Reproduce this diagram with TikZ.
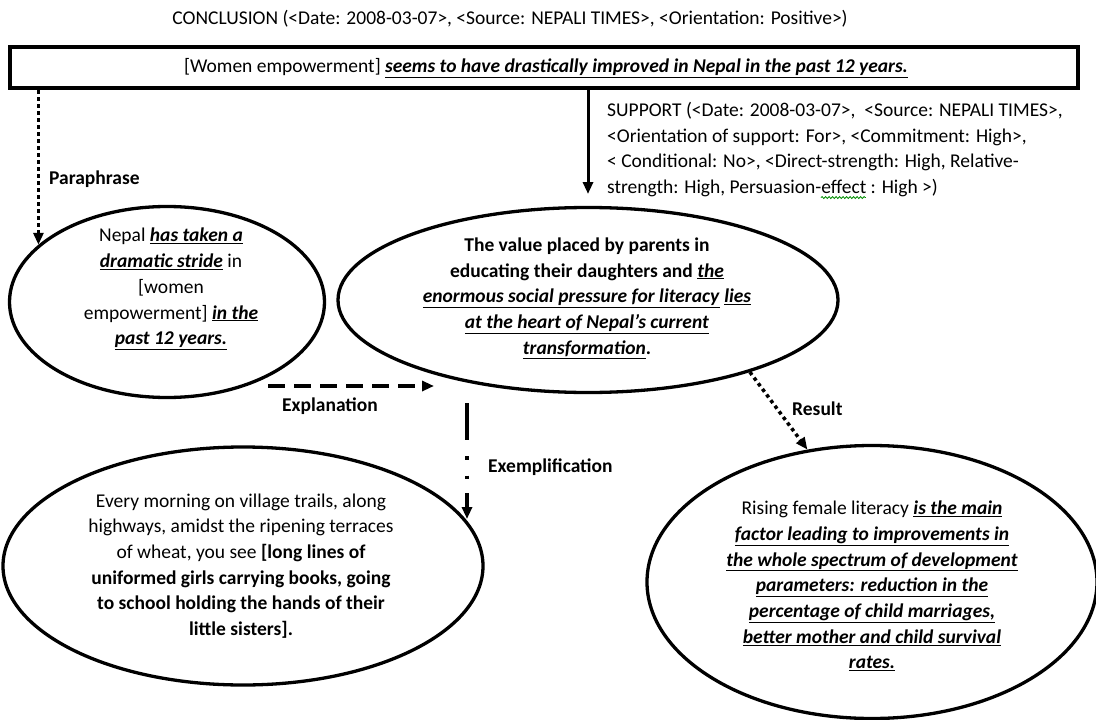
\documentclass[tikz,border=0pt]{standalone}
\usepackage{fontspec}
\setmainfont{Carlito}
\usetikzlibrary{arrows.meta,shapes.geometric,decorations.pathmorphing}
\newcommand\bui[1]{\underline{\textbf{\textit{#1}}}}
\newsavebox\gwbox
\newcommand\gwave[1]{\sbox\gwbox{#1}\usebox\gwbox\llap{\tikz[baseline=0pt,x=1pt,y=1pt]\draw[green!55!black, line width=0.8pt, decorate, decoration={snake, amplitude=1pt, segment length=3.5pt}] (0,-4) -- (\wd\gwbox,-4);}}
\begin{document}
\begin{tikzpicture}[x=1pt,y=-1pt,
  txt/.style={font=\fontsize{19.5}{25.7}\selectfont, align=center, inner sep=0pt},
  lbl/.style={font=\fontsize{19.5}{22}\selectfont\bfseries, inner sep=0pt},
  ell/.style={draw, line width=3.3pt, ellipse, inner sep=0pt},
  tip/.style={-{Triangle[length=12pt,width=10pt]}},
  dotline/.style={tip, line width=3.5pt, dash pattern=on 3.5pt off 3.5pt},
  dashline/.style={tip, line width=3.5pt, dash pattern=on 17pt off 9pt},
  exline/.style={tip, line width=3.5pt, dash pattern=on 37pt off 16pt on 3.5pt off 16pt on 3.5pt off 14pt on 40pt},
  solidline/.style={tip, line width=3pt}
]
\useasboundingbox (0,0) rectangle (1096,720);

% title
\node[txt] (title) at (510,19) {CONCLUSION (<Date: 2008-03-07>, <Source: NEPALI TIMES>, <Orientation: Positive>)};

% conclusion box
\node[draw, line width=4pt, minimum width=1068pt, minimum height=41pt, inner sep=0pt] (box) at (544,67.5) {};
\node[txt] (boxtext) at (546,68) {[Women empowerment] \bui{seems to have drastically improved in Nepal in the past 12 years.}};

% support label
\node[txt, align=left, anchor=north west] (support) at (607,102) {SUPPORT (<Date: 2008-03-07>, \ <Source: NEPALI TIMES>,\\
<Orientation of support: For>, <Commitment: High>,\\
< Conditional: No>, <Direct-strength: High, Relative-\\
strength: High, Persuasion-\gwave{effect} : High >)};

% ellipses
\node[ell, minimum width=315pt, minimum height=191pt] (E1) at (167,302) {};
\node[ell, minimum width=500pt, minimum height=185pt] (E2) at (588,300) {};
\node[ell, minimum width=480pt, minimum height=238pt] (E3) at (243,566) {};
\node[ell, minimum width=450pt, minimum height=273pt] (E4) at (872,582) {};

\node[txt] (T1) at (171,289) {Nepal \bui{has taken a}\\
\bui{dramatic stride} in\\
{[women}\\
empowerment] \bui{in the}\\
\bui{past 12 years.}};

\node[txt, font=\fontsize{19.5}{25.7}\selectfont\bfseries] (T2) at (587,298) {The value placed by parents in\\
educating their daughters and \bui{the}\\
\bui{enormous social pressure for literacy} \bui{lies}\\
\bui{at the heart of Nepal’s current}\\
\bui{transformation}.};

\node[txt] (T3) at (241,566) {Every morning on village trails, along\\
highways, amidst the ripening terraces\\
of wheat, you see \textbf{[long lines of}\\
\textbf{uniformed girls carrying books, going}\\
\textbf{to school holding the hands of their}\\
\textbf{little sisters].}};

\node[txt] (T4) at (872,586) {Rising female literacy \bui{is the main}\\
\bui{factor leading to improvements in}\\
\bui{the whole spectrum of development}\\
\bui{parameters: reduction in the}\\
\bui{percentage of child marriages,}\\
\bui{better mother and child survival}\\
\bui{rates.}};

% connectors
\coordinate (sup) at (588,194);
\coordinate (xstart) at (268,386);
\coordinate (xend) at (434,386);
\coordinate (exstart) at (467,403);
\coordinate (exend) at (467,519);

\draw[dotline] (E1.156 |- box.south) -- (E1.156);
\draw[solidline] (box.south -| sup) -- (sup);
\draw[dashline] (xstart) -- (xend);
\draw[exline] (exstart) -- (exend);
\draw[dotline] (E2.-24) -- (E4.116);

% labels
\node[lbl, anchor=west] (lpara) at (49,179) {Paraphrase};
\node[lbl] (lexpl) at (330,406) {Explanation};
\node[lbl, anchor=west] (lexem) at (488,467) {Exemplification};
\node[lbl, anchor=west] (lres) at (792,409) {Result};
\end{tikzpicture}
\end{document}
